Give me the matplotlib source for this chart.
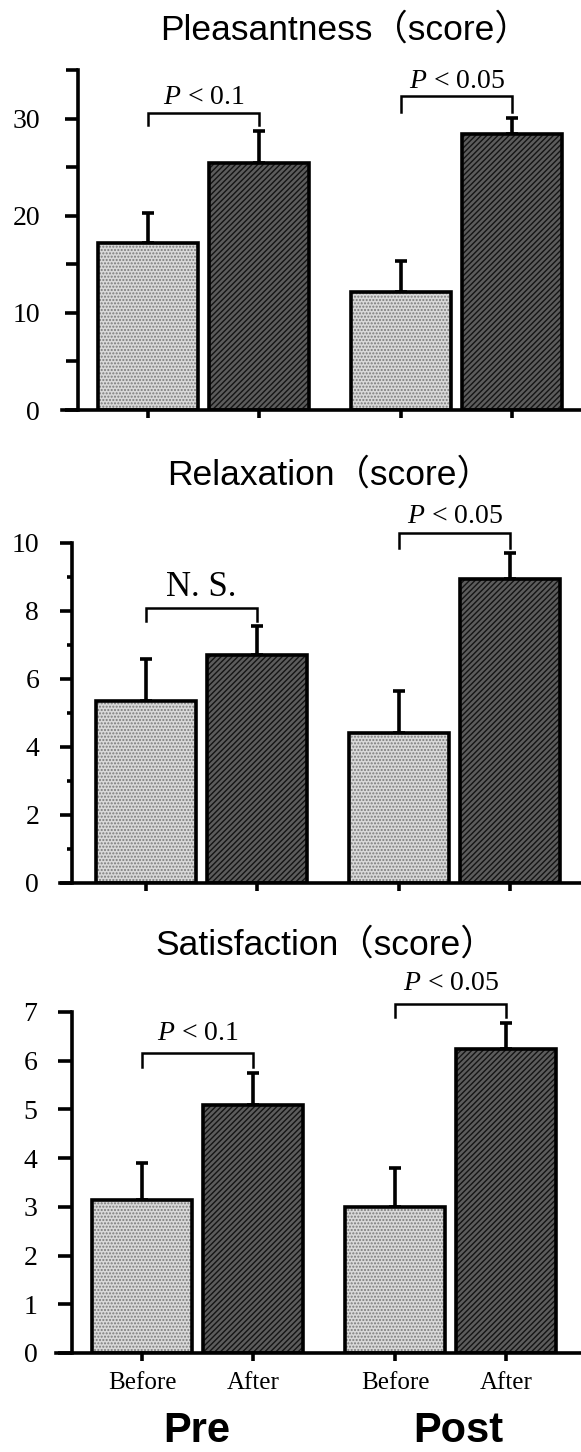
"""
Before/after bar charts for pleasantness, relaxation and satisfaction scores.
"""

import matplotlib
matplotlib.use('Agg')
import matplotlib.pyplot as plt
from matplotlib.ticker import MultipleLocator

plt.rcParams['mathtext.fontset'] = 'custom'
plt.rcParams['mathtext.rm'] = 'Liberation Serif'
plt.rcParams['mathtext.it'] = 'Liberation Serif:italic'
plt.rcParams['hatch.linewidth'] = 1.0

# data
bar_labels = ['Before', 'After', 'Before', 'After']
group_labels = ['Pre', 'Post']
titles = ['Pleasantness（score）', 'Relaxation（score）', 'Satisfaction（score）']

pleasant_mean = [17.2, 25.4, 12.1, 28.4]
pleasant_err = [3.1, 3.3, 3.2, 1.7]
relax_mean = [5.35, 6.7, 4.4, 8.95]
relax_err = [1.25, 0.85, 1.25, 0.75]
satis_mean = [3.14, 5.1, 3.0, 6.25]
satis_err = [0.76, 0.65, 0.8, 0.52]

# significance brackets: (pre, post) labels, bracket height, leg end, text baseline
pleasant_sig = ['$P$ < 0.1', '$P$ < 0.05']
pleasant_bracket = [30.6, 32.3]
pleasant_leg = [29.3, 30.7]
pleasant_text = [31.5, 33.1]
relax_sig = ['N. S.', '$P$ < 0.05']
relax_bracket = [8.1, 10.3]
relax_leg = [7.7, 9.85]
relax_text = [8.45, 10.6]
satis_sig = ['$P$ < 0.1', '$P$ < 0.05']
satis_bracket = [6.16, 7.17]
satis_leg = [5.87, 6.9]
satis_text = [6.43, 7.45]

x_pos = [0, 1, 2.28, 3.28]
W, H = 581, 1452
PX_PER_UNIT = 111.0
LW = 2.6

light_face, light_hatch = '#d9d9d9', '#7a7a7a'
dark_face, dark_hatch = '#5c5c5c', '#141414'

fig = plt.figure(figsize=(W / 100, H / 100), dpi=100)

# (left px, first tick px, spine px, y0 px, ytop px, ymax, major, minor, tick len, minor len, label pad)
panels = [
    (62, 148, 78, 410, 70, 35, 10, 5, 9.4, 9.0, 18),
    (60, 146, 72, 883, 543, 10, 2, 1, 8.6, 3.6, 15),
    (56, 142, 72, 1353, 1012, 7, 1, None, 10.0, 0, 15),
]
means = [pleasant_mean, relax_mean, satis_mean]
errs = [pleasant_err, relax_err, satis_err]
sig_labels = [pleasant_sig, relax_sig, satis_sig]
brackets = [pleasant_bracket, relax_bracket, satis_bracket]
legs = [pleasant_leg, relax_leg, satis_leg]
sig_text = [pleasant_text, relax_text, satis_text]
title_pos = [(345, 40), (330, 485), (326, 955)]

for i, (left, tick0, spine, y0, ytop, ymax, major, minor, tlen, mlen, pad) in enumerate(panels):
    ax = fig.add_axes([left / W, 1 - y0 / H, (W - left) / W, (y0 - ytop) / H])
    ax.set_xlim(-(tick0 - left) / PX_PER_UNIT, (W - tick0) / PX_PER_UNIT)
    ax.set_ylim(0, ymax)

    colors = [light_face, dark_face, light_face, dark_face]
    hcolors = [light_hatch, dark_hatch, light_hatch, dark_hatch]
    hatches = ['.....', '//////', '.....', '//////']
    for x, m, fc, hc, ht in zip(x_pos, means[i], colors, hcolors, hatches):
        ax.bar(x, m, 0.9, color=fc, hatch=ht, edgecolor=hc, linewidth=0, zorder=2)
    ax.bar(x_pos, means[i], 0.9, fill=False, edgecolor='black', linewidth=LW, zorder=3)
    ax.errorbar(x_pos, means[i], yerr=[[0] * 4, errs[i]], fmt='none', ecolor='black',
                elinewidth=LW, capsize=4, capthick=LW, zorder=1)

    # brackets
    for k, (xa, xb) in enumerate([(x_pos[0], x_pos[1]), (x_pos[2], x_pos[3])]):
        yb, yl = brackets[i][k], legs[i][k]
        ax.plot([xa, xa, xb, xb], [yl, yb, yb, yl], color='black', lw=1.8,
                clip_on=False, solid_joinstyle='miter')
        is_ns = sig_labels[i][k].startswith('N')
        ax.text((xa + xb) / 2, sig_text[i][k], sig_labels[i][k], ha='center',
                va='baseline', fontsize=25 if is_ns else 20,
                family='Liberation Serif', clip_on=False)

    for s in ['top', 'right']:
        ax.spines[s].set_visible(False)
    ax.spines['left'].set_position(('data', -(tick0 - spine) / PX_PER_UNIT))
    ax.spines['left'].set_linewidth(LW)
    ax.spines['bottom'].set_linewidth(LW)

    ax.yaxis.set_major_locator(MultipleLocator(major))
    if minor:
        ax.yaxis.set_minor_locator(MultipleLocator(minor))
    ax.tick_params(axis='y', which='major', length=tlen, width=LW, pad=pad,
                   labelsize=20)
    ax.tick_params(axis='y', which='minor', length=mlen, width=LW)
    for lab in ax.get_yticklabels():
        lab.set_family('Liberation Serif')

    ax.set_xticks(x_pos)
    ax.tick_params(axis='x', length=6, width=LW, direction='out', pad=8)
    if i == 2:
        ax.set_xticklabels(bar_labels, fontsize=18, family='Liberation Serif')
    else:
        ax.set_xticklabels([])

    tx, ty = title_pos[i]
    fig.text(tx / W, 1 - ty / H, titles[i], ha='center', va='baseline', fontsize=25.5,
             family=['Liberation Sans', 'Noto Sans CJK JP'])

# group labels under the last panel
fig.text(197 / W, 1 - 1442 / H, group_labels[0], ha='center', va='baseline',
         fontsize=30, fontweight='bold', family='Liberation Sans')
fig.text(458 / W, 1 - 1442 / H, group_labels[1], ha='center', va='baseline',
         fontsize=30, fontweight='bold', family='Liberation Sans')

fig.savefig('out.png', dpi=100)
